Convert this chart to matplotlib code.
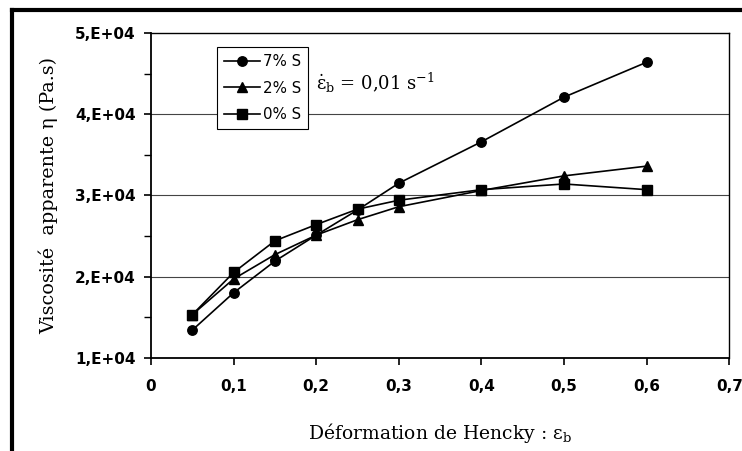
import matplotlib.pyplot as plt
from matplotlib.lines import Line2D

# Données
deformation = [0.05, 0.1, 0.15, 0.2, 0.25, 0.3, 0.4, 0.5, 0.6]
visc_7S = [13400, 18000, 21900, 25100, 28200, 31500, 36600, 42100, 46400]
visc_2S = [15300, 19700, 22700, 25100, 27000, 28600, 30600, 32400, 33600]
visc_0S = [15300, 20500, 24400, 26400, 28300, 29400, 30700, 31400, 30700]

x_ticks = [0, 0.1, 0.2, 0.3, 0.4, 0.5, 0.6, 0.7]
x_ticklabels = ["0", "0,1", "0,2", "0,3", "0,4", "0,5", "0,6", "0,7"]
y_ticks = [10000, 20000, 30000, 40000, 50000]
y_ticklabels = ["1,E+04", "2,E+04", "3,E+04", "4,E+04", "5,E+04"]
y_minor = [15000, 25000, 35000, 45000]

plt.rcParams['mathtext.fontset'] = 'custom'
plt.rcParams['mathtext.rm'] = 'DejaVu Serif'
plt.rcParams['mathtext.it'] = 'DejaVu Serif:italic'

W, H = 742, 451
fig = plt.figure(figsize=(W / 100, H / 100), dpi=100)
ax = fig.add_axes([151 / W, 1 - 357.7 / H, 578.3 / W, 324.7 / H])

# cadre extérieur (coupé à droite et en bas)
fig.add_artist(Line2D([12 / W, 12 / W], [0, 1 - 10 / H], transform=fig.transFigure,
                      color='black', lw=3, solid_capstyle='projecting'))
fig.add_artist(Line2D([12 / W, 1], [1 - 10 / H, 1 - 10 / H], transform=fig.transFigure,
                      color='black', lw=3, solid_capstyle='projecting'))

for yv in y_ticks[1:-1]:
    ax.axhline(yv, color='#444444', lw=0.8, zorder=1)

style = dict(color='black', lw=1.2, markersize=6.8, zorder=3)
ax.plot(deformation, visc_7S, marker='o', label='7% S', **style)
ax.plot(deformation, visc_2S, marker='^', label='2% S', **style)
ax.plot(deformation, visc_0S, marker='s', label='0% S', **style)

ax.set_xlim(0, 0.7)
ax.set_ylim(10000, 50000)
ax.set_xticks(x_ticks)
ax.set_xticklabels(x_ticklabels)
ax.set_yticks(y_ticks)
ax.set_yticklabels(y_ticklabels)
ax.set_yticks(y_minor, minor=True)
for lab in ax.get_xticklabels() + ax.get_yticklabels():
    lab.set_fontfamily('DejaVu Sans')
    lab.set_fontweight('bold')
    lab.set_fontsize(11)
ax.tick_params(axis='both', which='major', direction='out', length=5, width=1.2, color='black', pad=6)
ax.tick_params(axis='y', which='minor', direction='out', length=5, width=1.0)
ax.tick_params(axis='x', pad=10)
for sp in ax.spines.values():
    sp.set_linewidth(1.0)
    sp.set_color('black')
ax.spines['left'].set_linewidth(1.3)
ax.spines['bottom'].set_linewidth(1.3)

ax.set_xlabel("Déformation de Hencky : ε$_{\\mathrm{b}}$", fontfamily='DejaVu Serif',
              fontsize=13.5, labelpad=20)
ax.set_ylabel("Viscosité  apparente η (Pa.s)", fontfamily='DejaVu Serif',
              fontsize=13.8, labelpad=12)

leg = ax.legend(loc='upper left', bbox_to_anchor=(0.114, 0.957), borderaxespad=0,
                fancybox=False, framealpha=1, edgecolor='black', handlelength=2.4,
                handletextpad=0.15, labelspacing=0.75, borderpad=0.5,
                prop={'family': 'DejaVu Sans', 'size': 10.8})
leg.get_frame().set_linewidth(0.8)
leg.set_zorder(5)

ax.text(0.286, 0.845, "$\\dot{\\mathrm{ε}}_{\\mathrm{b}}$ = 0,01 s$^{\\mathrm{-1}}$",
        transform=ax.transAxes, fontfamily='DejaVu Serif', fontsize=13,
        ha='left', va='center')

fig.savefig('out.png', dpi=100)
